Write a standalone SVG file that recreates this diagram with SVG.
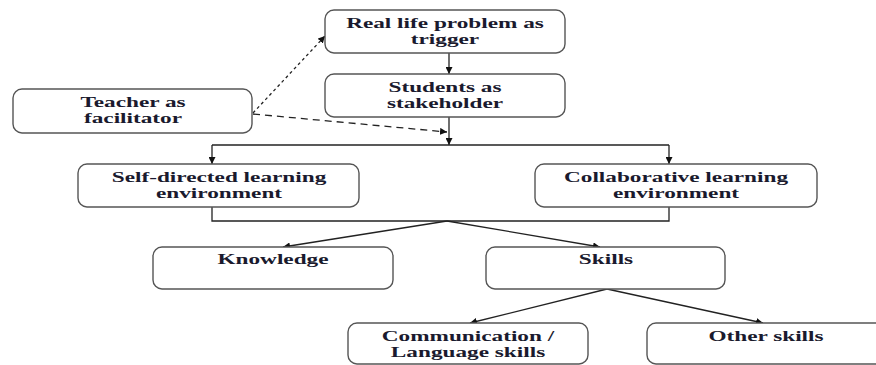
<svg xmlns="http://www.w3.org/2000/svg" width="876" height="365" viewBox="0 0 876 365">
<style>
.box{fill:#fff;stroke:#555;stroke-width:1.4}
.t{font-family:"Liberation Serif","Times New Roman",serif;font-weight:bold;font-size:15.5px;fill:#1a1a2e;text-anchor:middle}
.ln{fill:none;stroke:#222;stroke-width:1.3}
.dot{stroke-dasharray:3 3}
.dash{stroke-dasharray:7 5}
</style>
<defs>
<marker id="ah" viewBox="0 0 10 10" refX="10" refY="5" markerWidth="7" markerHeight="7" markerUnits="userSpaceOnUse" orient="auto">
<path d="M0,0 L10,5 L0,10 z" fill="#111"/>
</marker>
</defs>
<rect width="876" height="365" fill="#fff"/>
<g id="connectors">
<line class="ln" x1="449" y1="53" x2="449" y2="74" marker-end="url(#ah)"/>
<line class="ln dot" x1="253" y1="113" x2="325" y2="36" marker-end="url(#ah)"/>
<line class="ln dash" x1="253" y1="114" x2="447" y2="132" marker-end="url(#ah)"/>
<line class="ln" x1="449" y1="117" x2="449" y2="145" marker-end="url(#ah)"/>
<line class="ln" x1="212" y1="145" x2="669" y2="145"/>
<line class="ln" x1="212" y1="145" x2="212" y2="164" marker-end="url(#ah)"/>
<line class="ln" x1="669" y1="145" x2="669" y2="164" marker-end="url(#ah)"/>
<polyline class="ln" points="212,207 212,221 669,221 669,207"/>
<line class="ln" x1="447" y1="221" x2="283" y2="247" marker-end="url(#ah)"/>
<line class="ln" x1="447" y1="221" x2="600" y2="247" marker-end="url(#ah)"/>
<line class="ln" x1="607" y1="289" x2="470" y2="323" marker-end="url(#ah)"/>
<line class="ln" x1="607" y1="289" x2="763" y2="323" marker-end="url(#ah)"/>
</g>
<g id="real-life">
<rect class="box" x="325" y="10" width="240" height="43" rx="9"/>
<text class="t" transform="translate(445 0) scale(1.5 1)" y="28.5">Real life problem as</text>
<text class="t" transform="translate(445 0) scale(1.5 1)" y="44.5">trigger</text>
</g>
<g id="students">
<rect class="box" x="325" y="74" width="240" height="43" rx="9"/>
<text class="t" transform="translate(445 0) scale(1.5 1)" y="92.5">Students as</text>
<text class="t" transform="translate(445 0) scale(1.5 1)" y="108.5">stakeholder</text>
</g>
<g id="teacher">
<rect class="box" x="13" y="89" width="239" height="44" rx="9"/>
<text class="t" transform="translate(133 0) scale(1.5 1)" y="107">Teacher as</text>
<text class="t" transform="translate(133 0) scale(1.5 1)" y="123">facilitator</text>
</g>
<g id="self-directed">
<rect class="box" x="78" y="164" width="281" height="43" rx="9"/>
<text class="t" transform="translate(219 0) scale(1.5 1)" y="182">Self-directed learning</text>
<text class="t" transform="translate(219 0) scale(1.5 1)" y="198">environment</text>
</g>
<g id="collaborative">
<rect class="box" x="535" y="164" width="282" height="43" rx="9"/>
<text class="t" transform="translate(676 0) scale(1.5 1)" y="182">Collaborative learning</text>
<text class="t" transform="translate(676 0) scale(1.5 1)" y="198">environment</text>
</g>
<g id="knowledge">
<rect class="box" x="153" y="247" width="240" height="42" rx="9"/>
<text class="t" transform="translate(273 0) scale(1.5 1)" y="264">Knowledge</text>
</g>
<g id="skills">
<rect class="box" x="486" y="247" width="239" height="42" rx="9"/>
<text class="t" transform="translate(606 0) scale(1.5 1)" y="264">Skills</text>
</g>
<g id="communication">
<rect class="box" x="348" y="323" width="240" height="41" rx="9"/>
<text class="t" transform="translate(468 0) scale(1.5 1)" y="341.5">Communication /</text>
<text class="t" transform="translate(468 0) scale(1.5 1)" y="357.5">Language skills</text>
</g>
<g id="other-skills">
<rect class="box" x="647" y="323" width="240" height="41" rx="9"/>
<text class="t" transform="translate(766 0) scale(1.5 1)" y="341">Other skills</text>
</g>
</svg>
